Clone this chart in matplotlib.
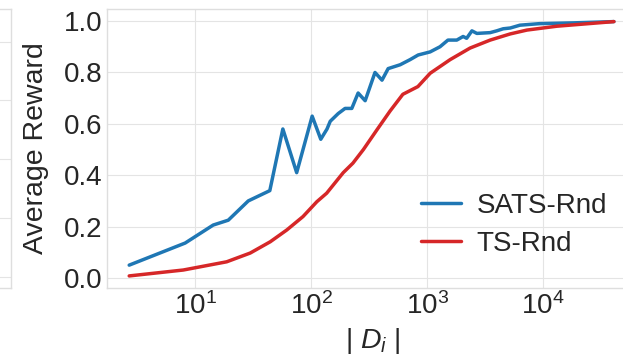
import numpy as np
import matplotlib
matplotlib.use("Agg")
import matplotlib.pyplot as plt

plt.style.use("seaborn-v0_8-whitegrid")
plt.rcParams["font.family"] = ["Liberation Sans", "DejaVu Sans"]
plt.rcParams["mathtext.fontset"] = "custom"
plt.rcParams["mathtext.rm"] = "Liberation Sans"
plt.rcParams["mathtext.it"] = "Liberation Sans:italic"
plt.rcParams["grid.color"] = "#e4e4e4"
plt.rcParams["axes.edgecolor"] = "#dedede"
plt.rcParams["text.color"] = "#262626"
plt.rcParams["xtick.color"] = "#262626"
plt.rcParams["ytick.color"] = "#262626"

# dataset size |D_i| and average reward per method
sats_x = [2.7, 8.2, 14.3, 19.3, 28.7, 44, 57, 75, 102, 121, 137, 146, 171, 196,
          224, 254, 292, 355, 408, 461, 585, 713, 836, 1060, 1290, 1510, 1800,
          2040, 2190, 2430, 2680, 3490, 3980, 4520, 5200, 6300, 9300, 18200, 40700]
sats_y = [0.05, 0.136, 0.206, 0.225, 0.30, 0.34, 0.58, 0.41, 0.63, 0.54, 0.58, 0.61, 0.64, 0.66,
          0.66, 0.72, 0.69, 0.80, 0.77, 0.815, 0.83, 0.85, 0.868, 0.88, 0.90, 0.926, 0.926,
          0.94, 0.933, 0.962, 0.952, 0.955, 0.962, 0.97, 0.973, 0.984, 0.99, 0.993, 0.998]

ts_x = [2.7, 7.9, 18.7, 29.8, 44.4, 61.7, 85, 112, 136, 189, 229, 282, 368, 479,
        617, 832, 1062, 1578, 2344, 3491, 5200, 7244, 13120, 40740]
ts_y = [0.008, 0.031, 0.063, 0.097, 0.141, 0.187, 0.239, 0.297, 0.33, 0.41, 0.447, 0.50, 0.576, 0.65,
        0.715, 0.745, 0.797, 0.85, 0.895, 0.926, 0.95, 0.965, 0.98, 0.998]

W, H = 623, 364
fig = plt.figure(figsize=(W / 100, H / 100), dpi=100)

# neighbouring panel, only its right edge is in view
ax0 = fig.add_axes([(10.5 - 300) / W, 76 / H, 300 / W, 279 / H])
ax0.set_ylim(-0.189, 4.556)
ax0.set_yticks([0, 1, 2, 3, 4])
ax0.set_yticklabels([])
ax0.set_xticks([])

ax = fig.add_axes([107 / W, 76 / H, 532 / W, 279 / H])
ax.plot(sats_x, sats_y, color="#1f77b4", lw=2.5, label="SATS-Rnd")
ax.plot(ts_x, ts_y, color="#d62728", lw=2.5, label="TS-Rnd")
ax.set_xscale("log")
ax.set_xlim(10 ** 0.24, 10 ** 4.826)
ax.set_ylim(-0.039, 1.047)
ax.set_yticks(np.arange(0, 1.01, 0.2))
ax.tick_params(labelsize=20, pad=3)
ax.set_ylabel("Average Reward", fontsize=20.5, labelpad=11)
ax.set_xlabel(r"$|\ D_i\ |$", fontsize=20.5, labelpad=4)
ax.legend(loc="center", bbox_to_anchor=(0.765, 0.226), fontsize=20, frameon=False,
          handlelength=1.45, handletextpad=0.55, labelspacing=0.42)

fig.savefig("out.png", dpi=100)
